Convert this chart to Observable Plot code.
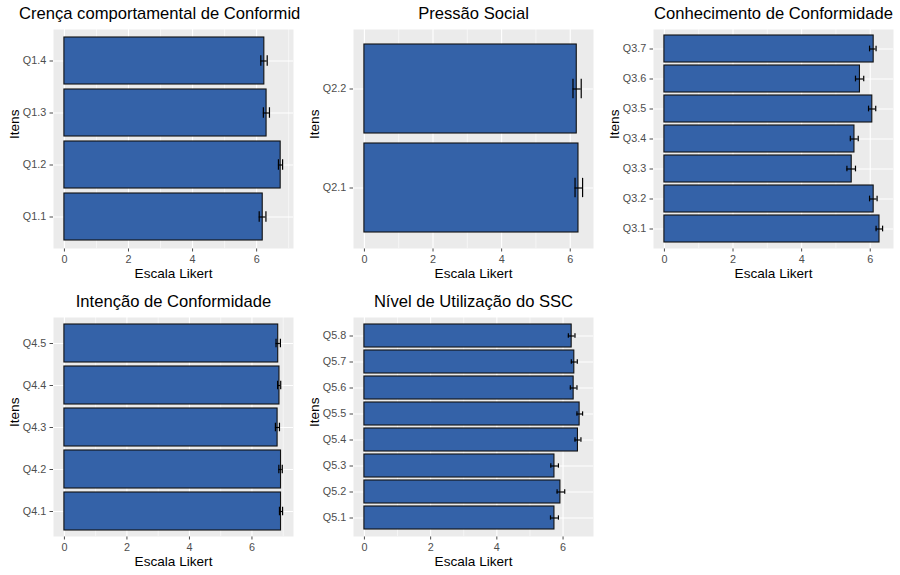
<!DOCTYPE html>
<html><head><meta charset="utf-8">
<script src="https://cdn.jsdelivr.net/npm/d3@7"></script>
<script src="https://cdn.jsdelivr.net/npm/@observablehq/plot@0.6"></script>
<style>
body{margin:0;background:#fff;}
#wrap{position:relative;width:900px;height:575px;font-family:"Liberation Sans",Arial,Helvetica,sans-serif;}
.cell{position:absolute;width:300px;height:287px;overflow:hidden;}
</style></head><body><div id="wrap"></div>
<script>
// Panel titles and axis labels
const titles = ["Crença comportamental de Conformidade", "Pressão Social", "Conhecimento de Conformidade", "Intenção de Conformidade", "Nível de Utilização do SSC"];
const xLabel = "Escala Likert";
const yLabel = "Itens";
const xTicks = [0, 2, 4, 6];
const xMinorTicks = [1, 3, 5, 7];

// Panel 1
const items1 = ["Q1.1", "Q1.2", "Q1.3", "Q1.4"];
const mean1 = [6.19, 6.75, 6.31, 6.24];
const lo1 = [6.08, 6.68, 6.21, 6.13];
const hi1 = [6.29, 6.81, 6.40, 6.33];
// Panel 2
const items2 = ["Q2.1", "Q2.2"];
const mean2 = [6.24, 6.19];
const lo2 = [6.14, 6.08];
const hi2 = [6.36, 6.32];
// Panel 3
const items3 = ["Q3.1", "Q3.2", "Q3.3", "Q3.4", "Q3.5", "Q3.6", "Q3.7"];
const mean3 = [6.27, 6.10, 5.46, 5.54, 6.06, 5.70, 6.10];
const lo3 = [6.17, 5.98, 5.32, 5.42, 5.95, 5.57, 5.98];
const hi3 = [6.36, 6.20, 5.57, 5.65, 6.16, 5.81, 6.17];
// Panel 4
const items4 = ["Q4.1", "Q4.2", "Q4.3", "Q4.4", "Q4.5"];
const mean4 = [6.93, 6.93, 6.82, 6.88, 6.84];
const lo4 = [6.88, 6.86, 6.75, 6.82, 6.77];
const hi4 = [6.98, 6.97, 6.88, 6.92, 6.91];
// Panel 5
const items5 = ["Q5.1", "Q5.2", "Q5.3", "Q5.4", "Q5.5", "Q5.6", "Q5.7", "Q5.8"];
const mean5 = [5.74, 5.92, 5.74, 6.45, 6.50, 6.32, 6.34, 6.26];
const lo5 = [5.62, 5.82, 5.63, 6.36, 6.42, 6.22, 6.25, 6.16];
const hi5 = [5.86, 6.05, 5.86, 6.54, 6.59, 6.42, 6.43, 6.36];

const FONT = '"Liberation Sans", Arial, Helvetica, sans-serif';

function panel(title, items, mean, lo, hi) {
  const data = items.map((item, i) => ({item, mean: mean[i], lo: lo[i], hi: hi[i]}));
  const W = 300, H = 287, mL = 53, mR = 7, mT = 29, mB = 39;
  const n = items.length;
  const step = (H - mT - mB) / (n + 0.2);
  const capInset = 0.35 * step;
  const top = d3.max(data, d => Math.max(d.mean, d.hi));
  const domain = [-0.05 * top, top * 1.05];
  const major = xTicks.filter(v => v >= domain[0] && v <= domain[1]);
  const minor = xMinorTicks.filter(v => v >= domain[0] && v <= domain[1]);
  return Plot.plot({
    width: W, height: H, marginLeft: mL, marginRight: mR, marginTop: mT, marginBottom: mB,
    style: {fontFamily: FONT, fontSize: "10.8px", color: "#4D4D4D", background: "transparent", overflow: "hidden"},
    x: {domain, ticks: major, tickFormat: d3.format("d"), tickSize: 3.5, tickPadding: 3.5, label: null},
    y: {type: "band", domain: items.slice().reverse(), paddingInner: 0.1, paddingOuter: 0.15, align: 0.5, tickSize: 3.5, tickPadding: 3.8, label: null},
    marks: [
      Plot.frame({fill: "#EBEBEB", stroke: "none"}),
      Plot.ruleX(minor, {stroke: "white", strokeWidth: 0.55}),
      Plot.ruleX(major, {stroke: "white", strokeWidth: 1.1}),
      Plot.ruleY(items, {stroke: "white", strokeWidth: 1.1}),
      Plot.barX(data, {x: "mean", y: "item", fill: "#3462A8", stroke: "#111", strokeWidth: 1.1}),
      Plot.ruleY(data, {y: "item", x1: "lo", x2: "hi", stroke: "black", strokeWidth: 1.2}),
      Plot.tickX(data, {x: "lo", y: "item", insetTop: capInset, insetBottom: capInset, stroke: "black", strokeWidth: 1.2}),
      Plot.tickX(data, {x: "hi", y: "item", insetTop: capInset, insetBottom: capInset, stroke: "black", strokeWidth: 1.2}),
      Plot.text([title], {text: d => d, frameAnchor: "top", lineAnchor: "middle", dy: -15.5, fontSize: 16.6, fill: "black"}),
      Plot.text([xLabel], {text: d => d, frameAnchor: "bottom", lineAnchor: "middle", dy: 25.5, fontSize: 13.6, fill: "black"}),
      Plot.text([yLabel], {text: d => d, frameAnchor: "left", lineAnchor: "middle", dx: -39, rotate: -90, fontSize: 13.6, fill: "black"})
    ]
  });
}

const wrap = document.getElementById("wrap");
const specs = [
  [items1, mean1, lo1, hi1, 0, 0],
  [items2, mean2, lo2, hi2, 300, 0],
  [items3, mean3, lo3, hi3, 600, 0],
  [items4, mean4, lo4, hi4, 0, 288],
  [items5, mean5, lo5, hi5, 300, 288]
];
specs.forEach(([items, mean, lo, hi, left, topPos], i) => {
  const cell = document.createElement("div");
  cell.className = "cell";
  cell.style.left = left + "px";
  cell.style.top = topPos + "px";
  cell.appendChild(panel(titles[i], items, mean, lo, hi));
  wrap.appendChild(cell);
});
</script>
</body></html>
